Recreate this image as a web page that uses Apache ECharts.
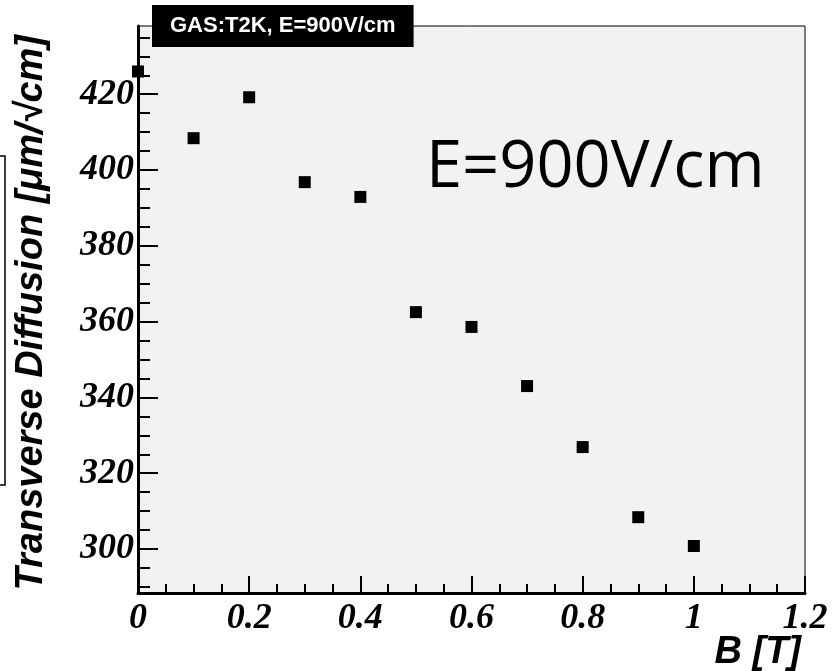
<!DOCTYPE html>
<html>
<head>
<meta charset="utf-8">
<script src="https://cdn.jsdelivr.net/npm/echarts@6/dist/echarts.min.js"></script>
<style>
  html, body { margin: 0; padding: 0; background: #fff; }
  #chart { width: 840px; height: 671px; }
</style>
</head>
<body>
<div id="chart"></div>
<script>
// magnetic field B [T] and transverse diffusion [um/sqrt(cm)]
var bField = [0, 0.1, 0.2, 0.3, 0.4, 0.5, 0.6, 0.7, 0.8, 0.9, 1.0];
var diffusion = [426, 408.4, 419.2, 396.8, 392.9, 362.5, 358.6, 343, 326.9, 308.4, 300.8];

var yMajorTicks = [300, 320, 340, 360, 380, 400, 420];
var yMinorTicks = [290, 295, 305, 310, 315, 325, 330, 335, 345, 350, 355, 365, 370, 375, 385, 390, 395, 405, 410, 415, 425, 430, 435];

var titleText = "GAS:T2K, E=900V/cm";
var noteText = "E=900V/cm";
var yName = "Transverse Diffusion [\u03bcm/\u221acm]";
var xName = "B [T]";

var tickFont = {
    fontFamily: "Liberation Serif",
    fontWeight: "bold",
    fontStyle: "italic",
    fontSize: 36,
    color: "#000"
};

function initChart() {
    var container = document.getElementById("chart");
    var chart = echarts.init(container);

    var points = bField.map(function (b, i) { return [b, diffusion[i]]; });

    chart.setOption({
        animation: false,
        backgroundColor: "#fff",
        title: {
            text: titleText,
            left: 152,
            top: 5,
            backgroundColor: "#000",
            padding: [9, 18],
            textStyle: {
                color: "#fff",
                fontFamily: "Liberation Sans",
                fontWeight: "bold",
                fontSize: 22,
                lineHeight: 24
            }
        },
        grid: {
            left: 138,
            right: 35,
            top: 26,
            bottom: 78,
            containLabel: false,
            outerBoundsMode: "none",
            show: true,
            backgroundColor: "#f2f2f2",
            borderColor: "#000",
            borderWidth: 1
        },
        xAxis: {
            type: "value",
            min: 0,
            max: 1.2,
            interval: 0.2,
            axisLine: { lineStyle: { color: "#000", width: 3 } },
            axisTick: { inside: true, length: 17, lineStyle: { color: "#000", width: 2 } },
            minorTick: { show: true, splitNumber: 4, length: 9, lineStyle: { color: "#000", width: 2 } },
            axisLabel: Object.assign({ margin: 8 }, tickFont),
            splitLine: { show: false }
        },
        yAxis: [{
            type: "value",
            min: 288.4,
            max: 438,
            axisLine: { lineStyle: { color: "#000", width: 3 } },
            axisTick: { inside: true, length: 20, customValues: yMajorTicks, lineStyle: { color: "#000", width: 2 } },
            axisLabel: Object.assign({ margin: 4, customValues: yMajorTicks }, tickFont),
            splitLine: { show: false }
        }, {
            type: "value",
            min: 288.4,
            max: 438,
            position: "left",
            axisLine: { show: false },
            axisTick: { inside: true, length: 12, customValues: yMinorTicks, lineStyle: { color: "#000", width: 2 } },
            axisLabel: { show: false },
            splitLine: { show: false }
        }],
        series: [{
            type: "scatter",
            data: points,
            symbol: "rect",
            symbolSize: 12,
            clip: false,
            itemStyle: { color: "#000", opacity: 1 }
        }],
        graphic: [{
            // y axis title, reading bottom to top
            type: "text",
            x: 32,
            y: 35,
            rotation: Math.PI / 2,
            style: {
                text: yName,
                fontFamily: "Liberation Sans",
                fontWeight: "bold",
                fontStyle: "italic",
                fontSize: 38,
                fill: "#000",
                textAlign: "right",
                textVerticalAlign: "middle"
            }
        }, {
            // x axis title, under the right end of the axis
            type: "text",
            x: 801,
            y: 634,
            style: {
                text: xName,
                fontFamily: "Liberation Sans",
                fontWeight: "bold",
                fontStyle: "italic",
                fontSize: 38,
                fill: "#000",
                textAlign: "right",
                textVerticalAlign: "top"
            }
        }, {
            type: "text",
            x: 426,
            y: 136,
            style: {
                text: noteText,
                fontFamily: "Open Sans",
                fontSize: 65,
                fill: "#000",
                textAlign: "left",
                textVerticalAlign: "top"
            }
        }, {
            // edge of a neighbouring box, cut by the crop
            type: "rect",
            shape: { x: -10, y: 156, width: 15, height: 329 },
            style: { fill: "none", stroke: "#000", lineWidth: 1.5 }
        }]
    });
}

document.addEventListener("DOMContentLoaded", initChart);
</script>
</body>
</html>
